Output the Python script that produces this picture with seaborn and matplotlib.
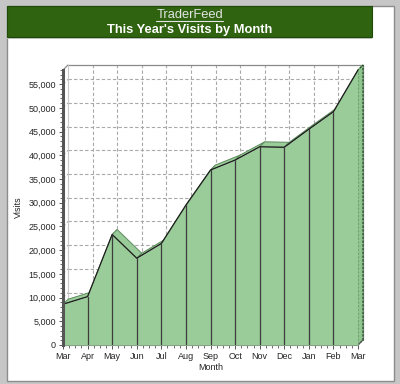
import numpy as np
import matplotlib
matplotlib.use('Agg')
import matplotlib.pyplot as plt
import seaborn as sns
from matplotlib.patches import Rectangle, Polygon
from matplotlib.lines import Line2D
from matplotlib.ticker import AutoMinorLocator, FuncFormatter

# data
months = ['Mar', 'Apr', 'May', 'Jun', 'Jul', 'Aug', 'Sep', 'Oct', 'Nov', 'Dec', 'Jan', 'Feb', 'Mar']
visits = [8600, 10200, 23300, 18300, 21400, 29500, 36900, 39000, 41800, 41700, 45500, 49200, 58000]
y_ticks = list(range(0, 55001, 5000))
site_name = 'TraderFeed'
chart_title = "This Year's Visits by Month"

sns.set_style('white')
plt.rcParams['font.family'] = ['Liberation Sans', 'DejaVu Sans']

W, H = 400, 384
fig = plt.figure(figsize=(W / 100, H / 100), dpi=100)


def box(x0, y0, x1, y1):
    # pixel box (top-left origin) -> figure fraction rect
    return [x0 / W, 1 - y1 / H, (x1 - x0) / W, (y1 - y0) / H]


def fig_rect(x0, y0, x1, y1, z=-5, **kw):
    l, b, w, h = box(x0, y0, x1, y1)
    fig.patches.append(Rectangle((l, b), w, h, transform=fig.transFigure, zorder=z, **kw))


# outer frame and banner (behind the axes)
fig_rect(0, 0, W, H, z=-5, facecolor='#c6c6c6', edgecolor='none')
fig_rect(7, 6, 394, 381, z=-4, facecolor='white', edgecolor='#8c8c8c', lw=1)
fig_rect(7, 37, 372, 39, z=-3, facecolor='#c4c4c4', edgecolor='none')
fig_rect(7, 6, 372, 37, z=-3, facecolor='#2f6310', edgecolor='#1f4a08', lw=0.8)

t1 = fig.text(189.5 / W, 1 - 15 / H, site_name, ha='center', va='center',
              color='#e4e4e4', fontsize=9.3)
fig.text(189.5 / W, 1 - 30 / H, chart_title, ha='center', va='center',
         color='white', fontsize=9.3, fontweight='bold')

# front plane of the chart
ax = fig.add_axes(box(63, 70, 358, 345))
ax.patch.set_alpha(0)
n = len(visits)
xs = np.arange(n)
ytop = 58000
ax.set_xlim(0, n - 1)
ax.set_ylim(0, ytop)

# depth offset (5 px right, 5 px up) in data units
ddx = 5 * (n - 1) / 295
ddy = 5 * ytop / 275

grid_kw = dict(color='#a8a8a8', lw=0.8, ls=(0, (3, 2)), clip_on=False, zorder=1)
for yt in y_ticks[1:]:
    ax.plot([ddx, n - 1 + ddx], [yt + ddy, yt + ddy], **grid_kw)
    ax.plot([0, ddx], [yt, yt + ddy], **grid_kw)
for i in range(1, n - 1):
    ax.plot([i + ddx, i + ddx], [ddy, ytop + ddy], **grid_kw)

edge_kw = dict(color='#8a8a8a', lw=0.9, clip_on=False, zorder=1)
ax.plot([ddx, n - 1 + ddx], [ytop + ddy, ytop + ddy], **edge_kw)
ax.plot([0, ddx], [ytop, ytop + ddy], **edge_kw)
ax.plot([ddx, ddx], [ddy, ytop + ddy], color='#c8c8c8', lw=0.8, clip_on=False, zorder=1)
ax.plot([n - 1 + ddx, n - 1 + ddx], [ddy, ytop + ddy], **edge_kw)

green = '#99cc99'
# top faces of the area
for i in range(n - 1):
    quad = [(xs[i], visits[i]), (xs[i + 1], visits[i + 1]),
            (xs[i + 1] + ddx, visits[i + 1] + ddy), (xs[i] + ddx, visits[i] + ddy)]
    ax.add_patch(Polygon(quad, closed=True, facecolor=green, edgecolor='#5e8a5e',
                         lw=0.7, clip_on=False, zorder=2))
# right side face
side = [(xs[-1], 0), (xs[-1], visits[-1]), (xs[-1] + ddx, visits[-1] + ddy), (xs[-1] + ddx, ddy)]
ax.add_patch(Polygon(side, closed=True, facecolor='#8fc48f', edgecolor='#1d4d1d',
                     lw=0.9, ls=(0, (2, 1)), clip_on=False, zorder=2))
ax.plot([xs[-1], xs[-1] + ddx], [0, ddy], color='#555555', lw=0.8, clip_on=False, zorder=2)

# front face
ax.fill_between(xs, 0, visits, color=green, lw=0, zorder=3)
sns.lineplot(x=xs, y=visits, ax=ax, color='#1e1e1e', lw=0.9, zorder=4)
for i in range(1, n - 1):
    ax.plot([xs[i], xs[i]], [0, visits[i]], color='#3c3c3c', lw=0.9, zorder=4)

# axes styling
for s in ['top', 'right']:
    ax.spines[s].set_visible(False)
ax.spines['left'].set_linewidth(2.2)
ax.spines['left'].set_color('#555555')
ax.spines['left'].set_zorder(5)
ax.spines['bottom'].set_linewidth(0.8)
ax.spines['bottom'].set_color('#7a7a7a')

ax.set_xticks(xs)
ax.set_xticklabels(months)
ax.set_yticks(y_ticks)
ax.yaxis.set_major_formatter(FuncFormatter(lambda v, p: f'{int(v):,}'))
ax.xaxis.set_minor_locator(AutoMinorLocator(4))
ax.yaxis.set_minor_locator(AutoMinorLocator(5))
ax.tick_params(which='major', direction='out', length=3, width=0.7, color='#555555',
               labelsize=6.5, pad=2, bottom=True, left=True)
ax.tick_params(which='minor', direction='out', length=2, width=0.6, color='#555555',
               bottom=True, left=True)
ax.set_xlabel('Month', fontsize=6.5, labelpad=1.5)
ax.set_ylabel('Visits', fontsize=6.5, labelpad=4)

# underline the site name
fig.canvas.draw()
bb = t1.get_window_extent()
fig.lines.append(Line2D([bb.x0 / W, bb.x1 / W], [(bb.y0 + 0.5) / H, (bb.y0 + 0.5) / H],
                        transform=fig.transFigure, color='#e4e4e4', lw=0.8))

fig.savefig('out.png', dpi=100)
